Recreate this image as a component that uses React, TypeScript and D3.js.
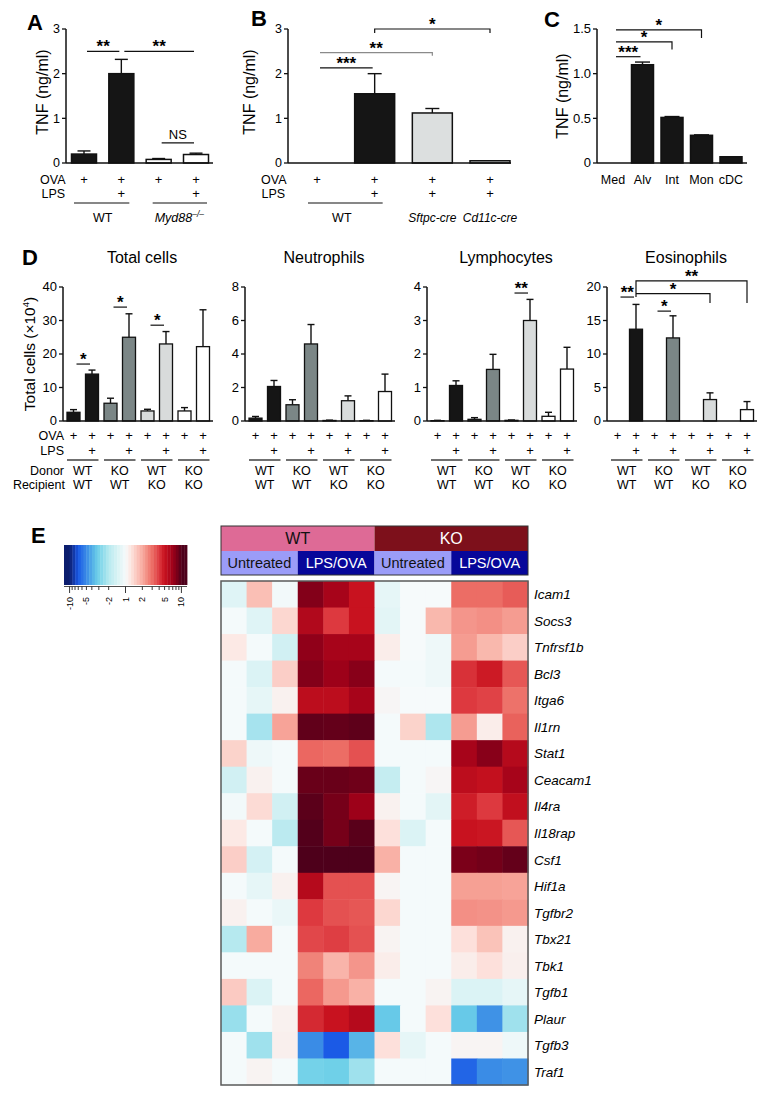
import React from 'react';
import * as d3 from 'd3';

const FONT = '"Liberation Sans", Arial, Helvetica, sans-serif';

// ---------------- Panel A ----------------
const aOva = ['+', '+', '+', '+'];
const aLps = ['', '+', '', '+'];
const aTnf = [0.2, 2.0, 0.08, 0.19];
const aSem = [0.07, 0.32, 0.02, 0.03];
const aTicks = [0, 1, 2, 3];
const aSig = [
  { from: 0, to: 1, at: 2.5, label: '**' },
  { from: 1, to: 3, at: 2.5, label: '**' },
  { from: 2, to: 3, at: 0.45, label: 'NS' },
];

// ---------------- Panel B ----------------
const bOva = ['+', '+', '+', '+'];
const bLps = ['', '+', '+', '+'];
const bTnf = [0, 1.55, 1.12, 0.05];
const bSem = [0, 0.45, 0.1, 0];
const bTicks = [0, 1, 2, 3];
const bSig = [
  { from: 0, to: 1, at: 2.13, label: '***' },
  { from: 0, to: 2, at: 2.47, label: '**', dropR: 2.4, gray: true },
  { from: 1, to: 3, at: 3.0, label: '*', dropL: 2.91, dropR: 2.91 },
];

// ---------------- Panel C ----------------
const cCells = ['Med', 'Alv', 'Int', 'Mon', 'cDC'];
const cTnf = [0, 1.1, 0.51, 0.31, 0.07];
const cSem = [0, 0.03, 0.01, 0.005, 0];
const cTicks = [0, 0.5, 1.0, 1.5];
const cSig = [
  { from: 0, to: 1, at: 1.19, label: '***' },
  { from: 0, to: 2, at: 1.355, label: '*', dropR: 1.27 },
  { from: 0, to: 3, at: 1.49, label: '*', dropR: 1.4 },
];

// ---------------- Panel D ----------------
const dOva = ['+', '+', '+', '+', '+', '+', '+', '+'];
const dLps = ['', '+', '', '+', '', '+', '', '+'];
const dDonor = ['WT', 'KO', 'WT', 'KO'];
const dRecipient = ['WT', 'WT', 'KO', 'KO'];
const dTitles = ['Total cells', 'Neutrophils', 'Lymphocytes', 'Eosinophils'];
const dTotal = [2.6, 14.0, 5.3, 25.0, 3.0, 23.0, 3.0, 22.2];
const dTotalSem = [0.8, 1.2, 1.5, 7.0, 0.5, 3.7, 1.0, 11.0];
const dNeut = [0.17, 2.06, 0.97, 4.6, 0.03, 1.21, 0.02, 1.76];
const dNeutSem = [0.1, 0.36, 0.3, 1.16, 0.02, 0.29, 0.02, 1.04];
const dLymph = [0.01, 1.06, 0.05, 1.54, 0.02, 3.0, 0.14, 1.55];
const dLymphSem = [0.01, 0.14, 0.05, 0.45, 0.01, 0.63, 0.12, 0.65];
const dEos = [0, 13.7, 0, 12.4, 0, 3.2, 0, 1.7];
const dEosSem = [0, 3.7, 0, 3.3, 0, 1.0, 0, 1.2];
const dTicksTotal = [0, 10, 20, 30, 40];
const dTicksNeut = [0, 2, 4, 6, 8];
const dTicksLymph = [0, 1, 2, 3, 4];
const dTicksEos = [0, 5, 10, 15, 20];
const dSigTotal = [
  { from: 0, to: 1, at: 17, label: '*' },
  { from: 2, to: 3, at: 34, label: '*' },
  { from: 4, to: 5, at: 28.6, label: '*' },
];
const dSigNeut: any[] = [];
const dSigLymph = [{ from: 4, to: 5, at: 3.82, label: '**' }];
const dSigEos = [
  { from: 0, to: 1, at: 18.5, label: '**' },
  { from: 2, to: 3, at: 16.4, label: '*' },
  { from: 1, to: 5, at: 19, label: '*', dropL: 19, dropR: 17.6 },
  { from: 1, to: 7, at: 20.9, label: '**', dropL: 18.5, dropR: 17.6 },
];

// ---------------- Panel E ----------------
const genes = ['Icam1', 'Socs3', 'Tnfrsf1b', 'Bcl3', 'Itga6', 'Il1rn', 'Stat1', 'Ceacam1', 'Il4ra', 'Il18rap',
  'Csf1', 'Hif1a', 'Tgfbr2', 'Tbx21', 'Tbk1', 'Tgfb1', 'Plaur', 'Tgfb3', 'Traf1'];
const genotypes = ['WT', 'KO'];
const treatments = ['Untreated', 'LPS/OVA'];
// fold change per sample: WT untreated x3, WT LPS/OVA x3, KO untreated x3, KO LPS/OVA x3
const foldChange = [
  [-1.3, 1.7, -1.05, 8, 6.5, 5, -1.2, 1, 1, 3, 3, 3.3],
  [-1.02, -1.3, 1.4, 6, 4, 5, -1.25, 1, 1.8, 2.3, 2.4, 2.2],
  [1.2, -1.02, -1.5, 7.5, 6.5, 6.5, 1.15, 1, -1.1, 2.2, 1.8, 1.5],
  [-1.02, -1.35, 1.5, 8, 7, 7.8, -1.02, -1.02, -1.1, 4.2, 4.8, 3.4],
  [-1.02, -1.2, 1.1, 5.5, 5.5, 6.5, 1.05, 1, 1, 4, 3.8, 2.9],
  [-1.02, -2.2, 2.1, 9.3, 9.2, 9.4, -1.02, 1.45, -2.1, 2.2, 1.15, 3.2],
  [1.45, -1.1, -1.02, 3.1, 3, 3.5, -1.02, -1.02, -1.02, 6.5, 7.8, 5.8],
  [-1.5, 1.1, -1.02, 9, 9, 8.8, -1.7, -1.02, 1.05, 5.5, 5.2, 6.5],
  [-1.05, 1.35, -1.5, 9.5, 8.5, 7, 1.1, -1.02, -1.25, 4.7, 4, 5.3],
  [1.2, -1.02, -1.9, 9.8, 8.5, 9.6, 1.3, -1.35, -1.02, 5, 4.9, 3.4],
  [1.5, -1.45, -1.02, 10, 10, 10, 1.9, -1.02, -1.02, 8.3, 8.6, 9.2],
  [-1.02, -1.2, 1.1, 5.8, 3.5, 3.5, 1.07, -1.02, -1.02, 2.15, 2.15, 2.1],
  [1.1, -1.02, -1.15, 4, 3.5, 3.4, 1.4, -1.02, -1.02, 2.4, 2.35, 2.25],
  [-2, 2, -1.02, 3.7, 3.9, 3.5, 1.08, -1.02, -1.02, 1.3, 1.65, 1.1],
  [-1.02, -1.02, -1.02, 2.6, 1.85, 2.3, 1.15, -1.02, -1.02, 1.15, 1.3, 1.12],
  [1.55, -1.35, -1.02, 3.1, 2.25, 1.9, -1.02, -1.02, 1.08, -1.35, -1.35, -1.2],
  [-2.4, -1.02, 1.1, 4.4, 5, 5.8, -3.3, -1.02, 1.3, -3.3, -4.8, -2.3],
  [-1.02, -2.3, 1.12, -5, -7, -3.8, 1.3, -1.2, -1.02, 1.07, 1.07, -1.1],
  [-1.02, 1.08, -1.02, -3, -3.1, -2.3, -1.02, -1.02, -1.02, -6.5, -5, -4.8],
];
const legendLabels = [-10, -5, -2, 1, 2, 5, 10];
const legendTickFolds = [-10, -9, -8, -7, -6, -5, -4, -3, -2, 1, 2, 3, 4, 5, 6, 7, 8, 9, 10];

// ---------------- styles ----------------
const heatColor = d3.scaleLinear<string>()
  .domain([-1, -0.85, -0.7, -0.5, -0.3, -0.1, 0, 0.1, 0.3, 0.48, 0.6, 0.7, 0.85, 0.95, 1])
  .range(['#0b1d6e', '#1a58e6', '#3a8ce6', '#6ccfe8', '#b6e9ef', '#e2f5f6', '#f6fafb', '#fde4df',
    '#f8ab9f', '#ec6c64', '#dd3a40', '#c8121f', '#9c0019', '#6c0019', '#4e001b'])
  .interpolate(d3.interpolateRgb)
  .clamp(true);
const toT = (fc: number) => Math.sign(fc) * Math.log10(Math.abs(fc));

const dFills = ['#151515', '#151515', '#7b8686', '#7b8686', '#d8dbdb', '#d8dbdb', '#ffffff', '#ffffff'];

function Sig({ sig, cx, y, starSize = 17 }: any) {
  return (
    <g>
      {sig.map((s: any, i: number) => {
        const x0 = cx(s.from) + (s.dropL != null ? 0 : 3);
        const x1 = cx(s.to) - (s.dropR != null ? 0 : 2);
        const yy = y(s.at);
        const d = `M${x0},${s.dropL != null ? y(s.dropL) : yy}L${x0},${yy}L${x1},${yy}L${x1},${s.dropR != null ? y(s.dropR) : yy}`;
        const star = s.label.includes('*');
        return (
          <g key={i}>
            <path d={d} fill="none" stroke={s.gray ? '#8a8a8a' : '#111'} strokeWidth={1.2} />
            <text x={(x0 + x1) / 2} y={star ? yy + 1 : yy - 4} textAnchor="middle"
              fontSize={star ? starSize : 13} fontWeight={star ? 'bold' : 'normal'}>{s.label}</text>
          </g>
        );
      })}
    </g>
  );
}

function YAxis({ x, y, ticks, fmt, fontSize = 12.5 }: any) {
  const [b, t] = y.range();
  return (
    <g>
      <line x1={x} x2={x} y1={b} y2={t} stroke="#111" strokeWidth={1.5} />
      {ticks.map((v: number) => (
        <g key={v}>
          <line x1={x - 4} x2={x} y1={y(v)} y2={y(v)} stroke="#111" strokeWidth={1.3} />
          <text x={x - 6} y={y(v) + 4.3} textAnchor="end" fontSize={fontSize}>{fmt ? fmt(v) : v}</text>
        </g>
      ))}
    </g>
  );
}

function Bars({ x, y, values, sems, fills, bw, capW, sw = 1.5 }: any) {
  return (
    <g>
      {values.map((v: number, i: number) => {
        const cx = x(i);
        const top = y(v);
        const errTop = y(v + sems[i]);
        return (
          <g key={i}>
            {sems[i] > 0 && (
              <g stroke="#111" strokeWidth={1.4}>
                <line x1={cx} x2={cx} y1={top} y2={errTop} />
                <line x1={cx - capW / 2} x2={cx + capW / 2} y1={errTop} y2={errTop} />
              </g>
            )}
            {v > 0 && (
              <rect x={cx - bw / 2} y={top} width={bw} height={y(0) - top} fill={fills[i]} stroke="#111" strokeWidth={sw} />
            )}
          </g>
        );
      })}
    </g>
  );
}

function PanelA() {
  const y = d3.scaleLinear().domain([0, 3]).range([163, 29]);
  const x = d3.scalePoint<number>().domain(d3.range(aTnf.length)).range([84, 196]);
  return (
    <g>
      <text x={27} y={30} fontSize={22} fontWeight="bold">A</text>
      <text transform="translate(48,92) rotate(-90)" textAnchor="middle" fontSize={16}>TNF (ng/ml)</text>
      <YAxis x={66} y={y} ticks={aTicks} />
      <Bars x={x} y={y} values={aTnf} sems={aSem} fills={['#151515', '#151515', '#fff', '#fff']} bw={25} capW={13} />
      <line x1={66} x2={213} y1={163} y2={163} stroke="#111" strokeWidth={1.5} />
      <Sig sig={aSig} cx={x} y={y} />
      <text x={40} y={184} fontSize={12.5}>OVA</text>
      <text x={41.5} y={198} fontSize={12.5}>LPS</text>
      {aOva.map((s, i) => <text key={'o' + i} x={x(i)} y={184} textAnchor="middle" fontSize={13}>{s}</text>)}
      {aLps.map((s, i) => <text key={'l' + i} x={x(i)} y={198} textAnchor="middle" fontSize={13}>{s}</text>)}
      <line x1={x(0)! - 10} x2={x(1)! + 8} y1={203} y2={203} stroke="#111" strokeWidth={1.2} />
      <line x1={x(2)! - 6} x2={x(3)! + 11} y1={203} y2={203} stroke="#111" strokeWidth={1.2} />
      <text x={(x(0)! + x(1)!) / 2} y={222} textAnchor="middle" fontSize={12.5}>WT</text>
      <text x={(x(2)! + x(3)!) / 2 + 2} y={222} textAnchor="middle" fontSize={12.5} fontStyle="italic">
        Myd88<tspan dy={-5} fontSize={8.5}>–/–</tspan>
      </text>
    </g>
  );
}

function PanelB() {
  const y = d3.scaleLinear().domain([0, 3]).range([163, 29]);
  const x = d3.scalePoint<number>().domain(d3.range(bTnf.length)).range([317, 490]);
  return (
    <g>
      <text x={251} y={26} fontSize={22} fontWeight="bold">B</text>
      <text transform="translate(255,92) rotate(-90)" textAnchor="middle" fontSize={16}>TNF (ng/ml)</text>
      <YAxis x={288} y={y} ticks={bTicks} />
      <Bars x={x} y={y} values={bTnf} sems={bSem} fills={['#151515', '#151515', '#dcdfdf', '#dcdfdf']} bw={40} capW={14} />
      <line x1={288} x2={511} y1={163} y2={163} stroke="#111" strokeWidth={1.5} />
      <Sig sig={bSig} cx={x} y={y} />
      <text x={261} y={184} fontSize={12.5}>OVA</text>
      <text x={261.5} y={198} fontSize={12.5}>LPS</text>
      {bOva.map((s, i) => <text key={'o' + i} x={x(i)} y={184} textAnchor="middle" fontSize={13}>{s}</text>)}
      {bLps.map((s, i) => <text key={'l' + i} x={x(i)} y={198} textAnchor="middle" fontSize={13}>{s}</text>)}
      <line x1={x(0)! - 9} x2={x(1)! + 8} y1={203} y2={203} stroke="#111" strokeWidth={1.2} />
      <text x={(x(0)! + x(1)!) / 2 - 4} y={222} textAnchor="middle" fontSize={12.5}>WT</text>
      <text x={x(2)} y={222} textAnchor="middle" fontSize={12} fontStyle="italic">Sftpc-cre</text>
      <text x={x(3)} y={222} textAnchor="middle" fontSize={12} fontStyle="italic">Cd11c-cre</text>
    </g>
  );
}

function PanelC() {
  const y = d3.scaleLinear().domain([0, 1.5]).range([163, 29]);
  const x = d3.scalePoint<number>().domain(d3.range(cTnf.length)).range([613, 731]);
  return (
    <g>
      <text x={544} y={27} fontSize={22} fontWeight="bold">C</text>
      <text transform="translate(568,96) rotate(-90)" textAnchor="middle" fontSize={16}>TNF (ng/ml)</text>
      <YAxis x={597} y={y} ticks={cTicks} fmt={(v: number) => (v === 0 ? '0' : d3.format('.1f')(v))} fontSize={13} />
      <Bars x={x} y={y} values={cTnf} sems={cSem} fills={cTnf.map(() => '#151515')} bw={22} capW={15} />
      <line x1={597} x2={747} y1={163} y2={163} stroke="#111" strokeWidth={1.5} />
      <Sig sig={cSig} cx={x} y={y} />
      {cCells.map((c, i) => <text key={c} x={x(i)} y={184} textAnchor="middle" fontSize={12.5}>{c}</text>)}
    </g>
  );
}

function DSub({ axisX, title, values, sems, ticks, yMax, sig }: any) {
  const y = d3.scaleLinear().domain([0, yMax]).range([421, 287]);
  const step = 18.5;
  const x = d3.scalePoint<number>().domain(d3.range(values.length)).range([axisX + 10.5, axisX + 10.5 + 7 * step]);
  const bw = 13;
  return (
    <g>
      <text x={axisX + 79} y={263} textAnchor="middle" fontSize={16}>{title}</text>
      <YAxis x={axisX} y={y} ticks={ticks} fontSize={13} />
      <Bars x={x} y={y} values={values} sems={sems} fills={dFills} bw={bw} capW={7} sw={1.3} />
      <line x1={axisX} x2={axisX + 150} y1={421} y2={421} stroke="#111" strokeWidth={1.5} />
      <Sig sig={sig} cx={x} y={y} />
      {dOva.map((s, i) => <text key={'o' + i} x={x(i)} y={440} textAnchor="middle" fontSize={13}>{s}</text>)}
      {dLps.map((s, i) => <text key={'l' + i} x={x(i)} y={455} textAnchor="middle" fontSize={13}>{s}</text>)}
      {dDonor.map((dn, k) => (
        <g key={k}>
          <line x1={x(2 * k)! - bw / 2} x2={x(2 * k + 1)! + bw / 2} y1={460} y2={460} stroke="#111" strokeWidth={1.2} />
          <text x={(x(2 * k)! + x(2 * k + 1)!) / 2} y={475} textAnchor="middle" fontSize={12.5}>{dn}</text>
          <text x={(x(2 * k)! + x(2 * k + 1)!) / 2} y={489} textAnchor="middle" fontSize={12.5}>{dRecipient[k]}</text>
        </g>
      ))}
    </g>
  );
}

function PanelD() {
  return (
    <g>
      <text x={22} y={265} fontSize={22} fontWeight="bold">D</text>
      <text transform="translate(35,354) rotate(-90)" textAnchor="middle" fontSize={15.5}>
        Total cells (×10<tspan dy={-6} fontSize={9.5}>4</tspan><tspan dy={6}>)</tspan>
      </text>
      <DSub axisX={63} title={dTitles[0]} values={dTotal} sems={dTotalSem} ticks={dTicksTotal} yMax={40} sig={dSigTotal} />
      <DSub axisX={245} title={dTitles[1]} values={dNeut} sems={dNeutSem} ticks={dTicksNeut} yMax={8} sig={dSigNeut} />
      <DSub axisX={427} title={dTitles[2]} values={dLymph} sems={dLymphSem} ticks={dTicksLymph} yMax={4} sig={dSigLymph} />
      <DSub axisX={607} title={dTitles[3]} values={dEos} sems={dEosSem} ticks={dTicksEos} yMax={20} sig={dSigEos} />
      <text x={64} y={440} textAnchor="end" fontSize={12.5}>OVA</text>
      <text x={64} y={455} textAnchor="end" fontSize={12.5}>LPS</text>
      <text x={64} y={475} textAnchor="end" fontSize={12.5}>Donor</text>
      <text x={65} y={489} textAnchor="end" fontSize={12.5}>Recipient</text>
    </g>
  );
}

function PanelE() {
  const cols = d3.range(12);
  const x = d3.scaleBand<number>().domain(cols).range([221, 528]);
  const y = d3.scaleBand<string>().domain(genes).range([581, 1085]);
  const lx = d3.scaleLinear().domain([-1.1, 1.1]).range([64, 187]);
  const bands = d3.range(-1.1, 1.1, 0.05);
  const grpW = x.bandwidth() * 6;
  const subW = x.bandwidth() * 3;
  return (
    <g>
      <text x={31} y={543} fontSize={22} fontWeight="bold">E</text>
      {/* legend */}
      {bands.map((t, i) => (
        <rect key={i} x={lx(t)} y={545} width={lx(t + 0.05) - lx(t) + 0.4} height={40} fill={heatColor(t + 0.025)} />
      ))}
      <line x1={lx(-1.1)} x2={lx(1.1)} y1={586.5} y2={586.5} stroke="#222" strokeWidth={0.8} />
      {legendTickFolds.map((f) => {
        const major = legendLabels.includes(f) && (f === 1 || Math.abs(f) === 10);
        return <line key={f} x1={lx(toT(f))} x2={lx(toT(f))} y1={586.5} y2={major ? 593 : 590} stroke="#222" strokeWidth={0.9} />;
      })}
      {legendLabels.map((f) => (
        <text key={f} transform={`translate(${lx(toT(f)) + 3},${597}) rotate(-90)`} textAnchor="end" fontSize={9}>{f}</text>
      ))}
      {/* header */}
      {genotypes.map((g, gi) => (
        <g key={g}>
          <rect x={221 + gi * grpW} y={526} width={grpW} height={25} fill={gi === 0 ? '#de6a96' : '#7d101b'} />
          <text x={221 + gi * grpW + grpW / 2} y={544} textAnchor="middle" fontSize={16} fill={gi === 0 ? '#111' : '#fff'}>{g}</text>
          {treatments.map((t, ti) => (
            <g key={t}>
              <rect x={221 + gi * grpW + ti * subW} y={551} width={subW} height={24} fill={ti === 0 ? '#9b9cf8' : '#07079a'} />
              <text x={221 + gi * grpW + ti * subW + subW / 2} y={568} textAnchor="middle" fontSize={14.5} fill={ti === 0 ? '#111' : '#fff'}>{t}</text>
            </g>
          ))}
        </g>
      ))}
      <rect x={221} y={526} width={307} height={49} fill="none" stroke="#333" strokeWidth={1} />
      {/* body */}
      {genes.map((g, r) => (
        <g key={g}>
          {cols.map((c) => (
            <rect key={c} x={x(c)} y={y(g)} width={x.bandwidth() + 0.5} height={y.bandwidth() + 0.5} fill={heatColor(toT(foldChange[r][c]))} />
          ))}
          <text x={534} y={y(g)! + y.bandwidth() / 2 + 5} fontSize={13.5} fontStyle="italic">{g}</text>
        </g>
      ))}
      <rect x={221} y={581} width={307} height={504} fill="none" stroke="#5a5a5a" strokeWidth={1.5} />
    </g>
  );
}

export default function App() {
  return (
    <svg width={771} height={1099} style={{ position: 'absolute', left: 0, top: 0, background: '#fff' }} fontFamily={FONT}>
      <rect x={0} y={0} width={771} height={1099} fill="#fff" />
      <PanelA />
      <PanelB />
      <PanelC />
      <PanelD />
      <PanelE />
    </svg>
  );
}
